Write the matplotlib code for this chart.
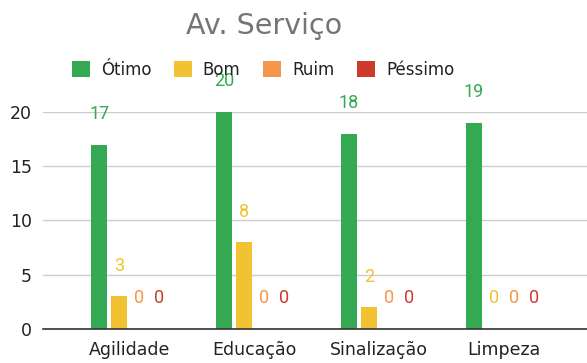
import numpy as np
import matplotlib.pyplot as plt

# categorias e contagens por avaliação
categorias = ['Agilidade', 'Educação', 'Sinalização', 'Limpeza']
series = ['Ótimo', 'Bom', 'Ruim', 'Péssimo']
otimo = [17, 20, 18, 19]
bom = [3, 8, 2, 0]
ruim = [0, 0, 0, 0]
pessimo = [0, 0, 0, 0]
valores = [otimo, bom, ruim, pessimo]
cores = ['#34A853', '#F1C232', '#F7964A', '#CC3B2B']

plt.rcParams['font.family'] = ['DejaVu Sans']

fig = plt.figure(figsize=(5.87, 3.63), dpi=100)
ax = fig.add_axes([0.0733, 0.0937, 0.9267, 0.5978])

x = np.arange(len(categorias))
passo = 0.16
largura = 0.128
for i, (nome, vals, cor) in enumerate(zip(series, valores, cores)):
    pos = x + (i - 1.5) * passo
    ax.bar(pos, vals, width=largura, color=cor, label=nome, zorder=3)
    for px, v in zip(pos, vals):
        ax.annotate(str(v), (px, v), xytext=(0, 15.5), textcoords='offset points',
                    ha='center', va='bottom', color=cor, fontsize=13,
                    family='Roboto', annotation_clip=False, zorder=4)

ax.set_xlim(-0.69, 3.665)
ax.set_ylim(0, 20)
ax.set_yticks([0, 5, 10, 15, 20])
ax.set_xticks(x)
ax.set_xticklabels(categorias)
ax.tick_params(axis='both', length=0, labelsize=12.5, colors='#222222')
ax.tick_params(axis='y', pad=8)
ax.tick_params(axis='x', pad=9)
ax.grid(axis='y', color='#cccccc', linewidth=1, zorder=0)
for lado in ['top', 'right', 'left']:
    ax.spines[lado].set_visible(False)
ax.spines['bottom'].set_color('#333333')
ax.spines['bottom'].set_linewidth(1.2)
ax.spines['bottom'].set_zorder(5)

fig.text(264 / 587, 1 - 26 / 363, 'Av. Serviço', ha='center', va='center',
         fontsize=20.5, color='#757575')

fig.legend(loc='center', bbox_to_anchor=(263 / 587, 1 - 70 / 363), ncol=4,
           frameon=False, fontsize=12, handlelength=1.1, handleheight=1.1,
           handletextpad=0.65, columnspacing=1.35, labelcolor='#222222')

fig.savefig('out.png', dpi=100)
